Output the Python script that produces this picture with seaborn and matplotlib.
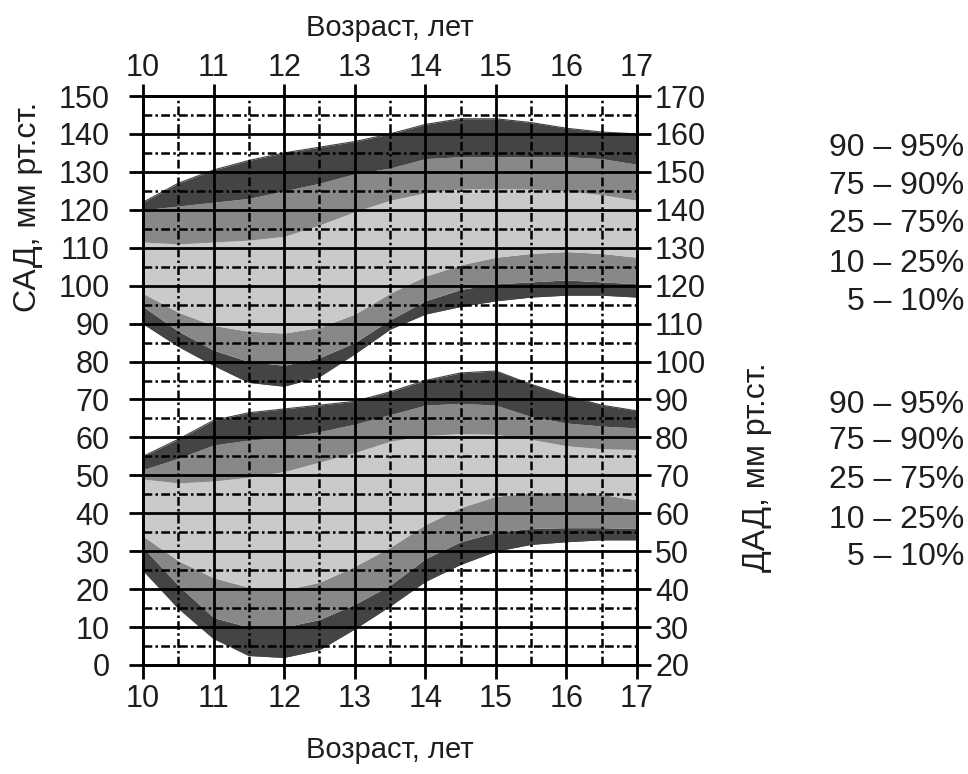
import numpy as np
import pandas as pd
import matplotlib
matplotlib.use("Agg")
import matplotlib.pyplot as plt
import seaborn as sns

# ---------------- data ----------------
age = [10, 10.5, 11, 11.5, 12, 12.5, 13, 13.5, 14, 14.5, 15, 15.5, 16, 16.5, 17]

# systolic (САД), mm Hg, left axis
sad_p95 = [122, 127, 130.5, 133, 135, 136.5, 138, 140, 142.5, 144, 144, 143, 141.5, 140.5, 140]
sad_p90 = [120, 121, 122, 123, 125, 127, 129.5, 131, 133.5, 134, 134, 134, 134, 133.5, 132]
sad_p75 = [111.5, 111, 111.5, 112, 113, 116, 119.5, 122.5, 124.5, 125.5, 125.5, 125.5, 125, 124, 122.5]
sad_p25 = [98, 93, 89.5, 88, 87.5, 89, 92.5, 98, 102.5, 105.5, 107.5, 108.5, 109, 108.5, 107.5]
sad_p10 = [94.5, 88, 83, 80, 79, 81, 85, 91, 96, 99, 100.5, 101, 101.5, 101, 100.5]
sad_p5 = [90, 84, 79, 74.5, 73.5, 76, 82, 88.5, 92.5, 94.5, 96, 97, 97.5, 97.5, 97]

# diastolic (ДАД), mm Hg, right axis
dad_p95 = [75, 79.5, 84.5, 86.5, 87.5, 88.5, 89.5, 92, 95, 97, 97.5, 94, 91, 88.5, 87]
dad_p90 = [71.5, 74.5, 78, 79.3, 80, 81.5, 83.5, 86, 88.5, 89, 88.5, 85.5, 83.8, 83, 82.5]
dad_p75 = [69, 68, 68.5, 69.5, 71, 73.5, 76, 79, 80.5, 81, 80.8, 79.5, 77.8, 77, 76.8]
dad_p25 = [54, 47.5, 43, 40.5, 39.8, 41.8, 46, 51, 57, 61.5, 64.5, 65.3, 65.5, 65, 63.5]
dad_p10 = [51, 41, 32.5, 30, 30, 32, 36, 41, 48, 52.5, 55, 56, 56.2, 56.2, 56]
dad_p5 = [45, 35, 27, 22.5, 22, 24, 29.5, 35.5, 42, 46.5, 50, 51.8, 52.5, 53, 53]

band_labels = ["90 – 95%", "75 – 90%", "25 – 75%", "10 – 25%", "5 – 10%"]
x_ticks = [10, 11, 12, 13, 14, 15, 16, 17]
left_ticks = list(range(0, 151, 10))
right_ticks = list(range(20, 171, 10))

# ---------------- style ----------------
sns.set_style("ticks")
plt.rcParams["font.family"] = ["Liberation Sans", "DejaVu Sans"]
TXT = "#1e1e1e"

DARK = "#444444"
MID = "#888888"
LIGHT = "#cacaca"

fig = plt.figure(figsize=(9.68, 7.74), dpi=100)
ax = fig.add_axes([143 / 968, 1 - 665 / 774, (637 - 143) / 968, (665 - 96) / 774])
ax.set_xlim(10, 17)
ax.set_ylim(0, 150)
ax2 = ax.twinx()
ax2.set_ylim(20, 170)

sad = pd.DataFrame({"age": age, "p5": sad_p5, "p10": sad_p10, "p25": sad_p25,
                    "p75": sad_p75, "p90": sad_p90, "p95": sad_p95})
dad = pd.DataFrame({"age": age, "p5": dad_p5, "p10": dad_p10, "p25": dad_p25,
                    "p75": dad_p75, "p90": dad_p90, "p95": dad_p95})

bands = [("p5", "p10", DARK), ("p10", "p25", MID), ("p25", "p75", LIGHT),
         ("p75", "p90", MID), ("p90", "p95", DARK)]

for a, df in ((ax, sad), (ax2, dad)):
    for lo, hi, c in bands:
        a.fill_between(df["age"], df[lo], df[hi], color=c, lw=0, zorder=1)
    for col in ("p5", "p95"):
        sns.lineplot(data=df, x="age", y=col, ax=a, color=DARK, lw=0.8, zorder=1.2)
    a.set_xlabel("")
    a.set_ylabel("")

# grid drawn on the top (twin) axes so it lies over the bands
DD = (3.5, 1.3, 1.0, 1.3)
for xv in np.arange(10, 17.01, 1):
    ax2.axvline(xv, color="black", lw=2.0, zorder=3)
for xv in np.arange(10.5, 17, 1):
    ax2.axvline(xv, color="black", lw=1.8, dashes=DD, zorder=3)
for yv in right_ticks:
    ax2.axhline(yv, color="black", lw=2.0, zorder=3)
for yv in np.arange(25, 170, 10):
    ax2.axhline(yv, color="black", lw=1.8, dashes=DD, zorder=3)

for a in (ax, ax2):
    for s in a.spines.values():
        s.set_visible(True)
        s.set_color("black")
        s.set_linewidth(2.0)

ax.set_xticks(x_ticks)
ax.set_yticks(left_ticks)
ax2.set_yticks(right_ticks)
ax.tick_params(axis="x", top=False, bottom=True, labeltop=False,
               labelbottom=True, direction="out", length=10, width=2.0,
               labelsize=22, pad=4, color="black", labelcolor=TXT)
ax.tick_params(axis="y", direction="out", length=10, width=2.0, labelsize=22,
               pad=14, color="black", labelcolor=TXT)
ax2.tick_params(axis="y", direction="out", length=10, width=2.0, labelsize=22,
                pad=3, color="black", labelcolor=TXT)

# top age axis
top = ax.secondary_xaxis("top")
top.set_xticks(x_ticks)
top.tick_params(axis="x", direction="out", length=9, width=2.0, labelsize=22,
                pad=0, color="black", labelcolor=TXT)
top.spines["top"].set_linewidth(2.0)
top.spines["top"].set_color("black")

# axis titles
fig.text(390 / 968, 1 - 28 / 774, "Возраст, лет", ha="center", va="center",
         fontsize=21, color=TXT)
fig.text(390 / 968, 1 - 750 / 774, "Возраст, лет", ha="center", va="center",
         fontsize=21, color=TXT)
fig.text(28 / 968, 1 - 207 / 774, "САД, мм рт.ст.", rotation=90, ha="center",
         va="center", fontsize=23, color=TXT)
fig.text(757 / 968, 1 - 467 / 774, "ДАД, мм рт.ст.", rotation=90, ha="center",
         va="center", fontsize=23, color=TXT)

# band labels
for ys in ([148, 186, 224, 264, 302], [405, 441, 480, 520, 557]):
    for lab, yp in zip(band_labels, ys):
        fig.text(964 / 968, 1 - yp / 774, lab, ha="right", va="center",
                 fontsize=23, color=TXT)

fig.savefig("out.png", dpi=100)
